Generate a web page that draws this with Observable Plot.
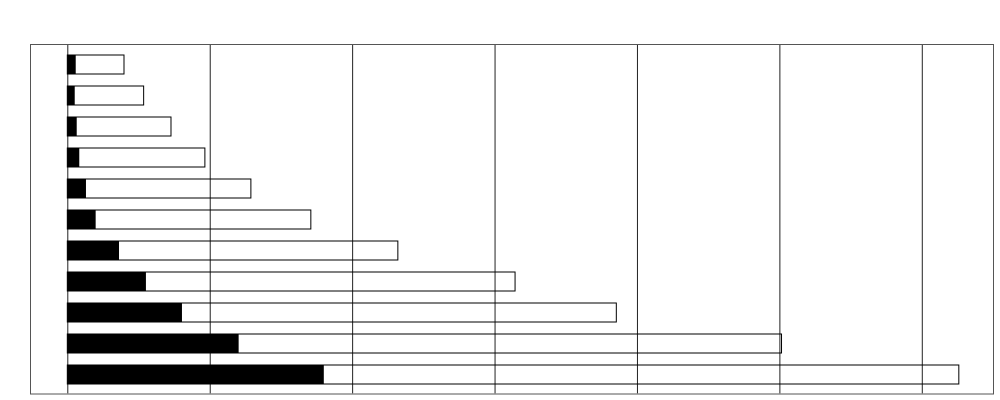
<!DOCTYPE html>
<html>
<head>
<meta charset="utf-8">
<script src="https://cdn.jsdelivr.net/npm/d3@7"></script>
<script src="https://cdn.jsdelivr.net/npm/@observablehq/plot@0.6"></script>
<style>
  html, body { margin: 0; padding: 0; background: #fff; }
  #chart svg { display: block; }
</style>
</head>
<body>
<div id="chart"></div>
<script>
const categories = ["r1","r2","r3","r4","r5","r6","r7","r8","r9","r10","r11"];
const innerValues = [0.59, 0.52, 0.66, 0.84, 1.31, 1.99, 3.63, 5.52, 8.05, 12.03, 18.01];
const totalValues = [3.98, 5.36, 7.28, 9.66, 12.89, 17.10, 23.21, 31.44, 38.55, 50.15, 62.60];
const gridTicks = [0, 10, 20, 30, 40, 50, 60];

const rows = categories.map((c, i) => ({cat: c, inner: innerValues[i], total: totalValues[i]}));

const chart = Plot.plot({
  width: 1000,
  height: 400,
  marginLeft: 30,
  marginRight: 7,
  marginTop: 44,
  marginBottom: 6.5,
  x: {domain: [-2.62, 65.0], axis: null},
  y: {domain: categories, axis: null, paddingInner: 0.392, paddingOuter: 0.28, align: 0.55},
  marks: [
    Plot.ruleX(gridTicks, {stroke: "#222", strokeWidth: 1}),
    Plot.barX(rows, {y: "cat", x1: 0, x2: "total", fill: "none", stroke: "#000", strokeWidth: 1}),
    Plot.barX(rows, {y: "cat", x1: 0, x2: "inner", fill: "#000"}),
    Plot.frame({stroke: "#555", strokeWidth: 1})
  ]
});
document.getElementById("chart").appendChild(chart);
</script>
</body>
</html>
